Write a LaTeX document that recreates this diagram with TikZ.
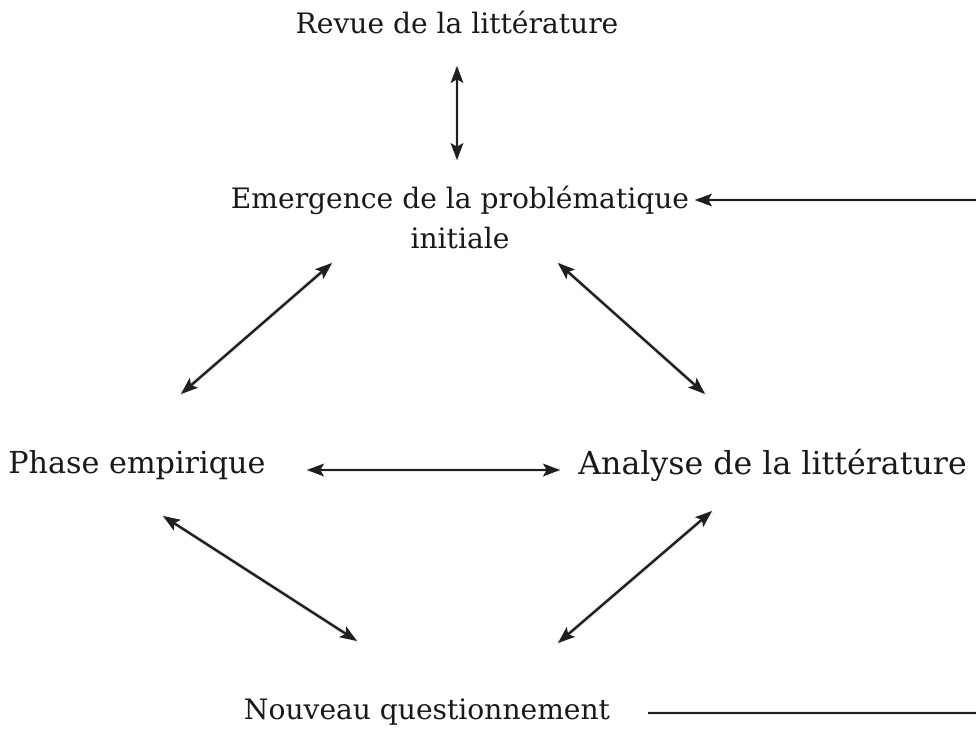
\documentclass[tikz,border=0pt]{standalone}
\usepackage{fontspec}
\setmainfont{DejaVu Serif}
\usetikzlibrary{arrows.meta}
\begin{document}
\begin{tikzpicture}[x=0.025cm,y=-0.025cm,
  lbl/.style={inner sep=0pt, text=black!90, font=\fontsize{20}{28.5}\selectfont, align=center},
  blbl/.style={inner sep=0pt, text=black!90, font=\fontsize{21.5}{28.5}\selectfont},
  albl/.style={inner sep=0pt, text=black!90, font=\fontsize{22.5}{28.5}\selectfont},
  tip/.tip={Stealth[length=12pt,width=9pt,inset=2.5pt]},
  shd/.style={draw=black!25, opacity=0.35, line width=3pt, shift={(1,4)}},
  dbl/.style={line width=1.7pt, draw=black!88, tip-tip},
  sgl/.style={line width=1.7pt, draw=black!88, -tip},
  pln/.style={line width=1.7pt, draw=black!88}]
\useasboundingbox (0,0) rectangle (976,738);
\node[lbl] (revue) at (457,22) {Revue de la littérature};
\node[lbl] (emerg) at (460,217) {Emergence de la problématique\\initiale};
\node[blbl,anchor=west] (phase) at (8,465) {Phase empirique};
\node[albl,anchor=west] (analyse) at (578,465) {Analyse de la littérature};
\node[lbl] (nouv) at (427,712) {Nouveau questionnement};
% endpoints
\coordinate (v1) at (457,66); \coordinate (v2) at (457,160);
\coordinate (e1) at (695,200); \coordinate (e2) at (976,200);
\coordinate (l1) at (332,263); \coordinate (l2) at (181,394);
\coordinate (r1) at (558,263); \coordinate (r2) at (705,394);
\coordinate (h1) at (307,470); \coordinate (h2) at (560,470);
\coordinate (b1) at (163,516); \coordinate (b2) at (357,641);
\coordinate (c1) at (712,511); \coordinate (c2) at (558,643);
\coordinate (n1) at (648,713); \coordinate (n2) at (976,713);
% soft shadows
\foreach \p/\q in {v1/v2,e1/e2,l1/l2,r1/r2,h1/h2,b1/b2,c1/c2,n1/n2}
  \draw[shd] (\p) -- (\q);
\draw[dbl] (v1) -- (v2);
\draw[sgl] (e2) -- (e1);
\draw[dbl] (l1) -- (l2);
\draw[dbl] (r1) -- (r2);
\draw[dbl] (h1) -- (h2);
\draw[dbl] (b1) -- (b2);
\draw[dbl] (c1) -- (c2);
\draw[pln] (n1) -- (n2);
\end{tikzpicture}
\end{document}
